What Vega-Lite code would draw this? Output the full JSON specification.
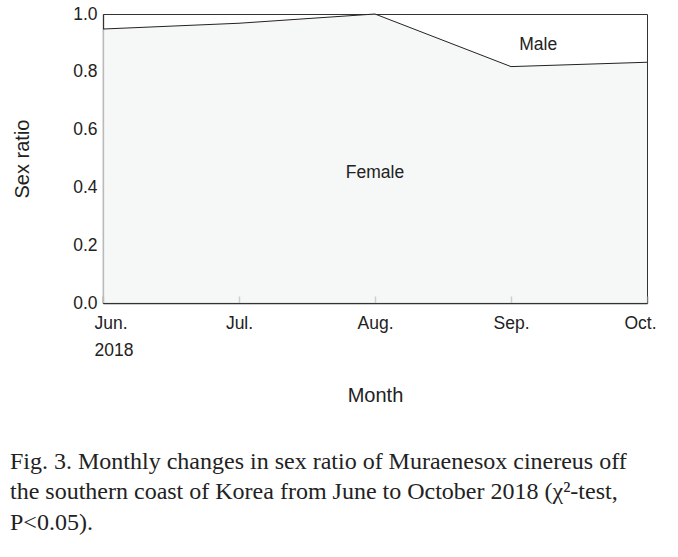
{
  "$schema": "https://vega.github.io/schema/vega-lite/v6.json",
  "width": 544,
  "height": 289,
  "autosize": "none",
  "padding": {"left": 103, "top": 14, "right": 31, "bottom": 254},
  "background": "white",
  "config": {
    "view": {"stroke": "#333", "strokeWidth": 1},
    "font": "Liberation Sans",
    "axis": {"domainColor": "#333", "domainWidth": 1.3, "tickColor": "#777", "tickWidth": 1.5, "labelColor": "#222", "titleColor": "#222", "grid": false, "labelFontSize": 17.5, "titleFontSize": 20, "titleFontWeight": "normal", "labelFont": "Liberation Sans", "titleFont": "Liberation Sans"}
  },
  "title": {
    "text": ["Fig. 3. Monthly changes in sex ratio of Muraenesox cinereus off", "the southern coast of Korea from June to October 2018 (χ²-test,", "P<0.05)."],
    "orient": "bottom",
    "anchor": "start",
    "frame": "group",
    "font": "Liberation Serif",
    "fontSize": 24,
    "fontWeight": "normal",
    "color": "#222",
    "lineHeight": 30.5,
    "dx": -93,
    "offset": 44
  },
  "data": {
    "values": [
      {"m": 0, "month": "Jun.", "female": 0.948},
      {"m": 1, "month": "Jul.", "female": 0.968},
      {"m": 2, "month": "Aug.", "female": 1.0},
      {"m": 3, "month": "Sep.", "female": 0.818},
      {"m": 4, "month": "Oct.", "female": 0.833}
    ]
  },
  "layer": [
    {
      "mark": {"type": "area", "color": "#f2f3f3", "line": {"color": "#222", "strokeWidth": 1}},
      "encoding": {
        "x": {"field": "m", "type": "quantitative", "scale": {"domain": [0, 4], "nice": false},
          "axis": {"title": "Month", "values": [0, 1, 2, 3, 4], "tickSize": -7, "labelPadding": 18, "titlePadding": 27, "labelLineHeight": 27, "labelFlush": true, "labelFlushOffset": 9,
            "labelExpr": "datum.value == 0 ? ['Jun.', '2018'] : datum.value == 1 ? 'Jul.' : datum.value == 2 ? 'Aug.' : datum.value == 3 ? 'Sep.' : 'Oct.'"}},
        "y": {"field": "female", "type": "quantitative", "scale": {"domain": [0, 1], "nice": false},
          "axis": {"title": "Sex ratio", "values": [0, 0.2, 0.4, 0.6, 0.8, 1.0], "format": ".1f", "ticks": false, "labelPadding": 6, "titlePadding": 40}}
      }
    },
    {
      "data": {"values": [
        {"label": "Male", "x": 3.2, "y": 0.893},
        {"label": "Female", "x": 2.0, "y": 0.45}
      ]},
      "mark": {"type": "text", "fontSize": 17.5, "color": "#222", "font": "Liberation Sans"},
      "encoding": {
        "x": {"field": "x", "type": "quantitative"},
        "y": {"field": "y", "type": "quantitative"},
        "text": {"field": "label"}
      }
    }
  ]
}
